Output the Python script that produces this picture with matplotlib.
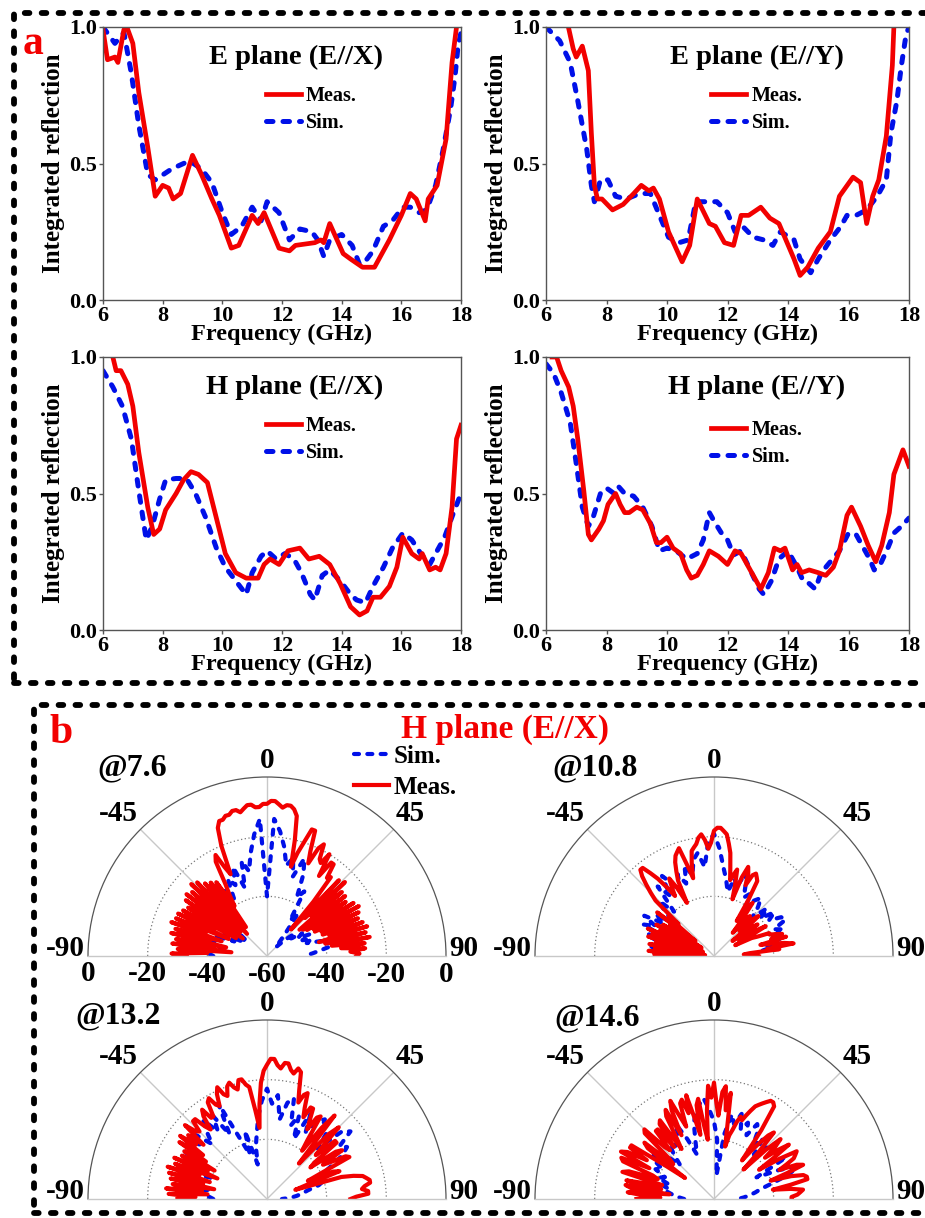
import numpy as np
import matplotlib
matplotlib.use('Agg')
import matplotlib.pyplot as plt
from matplotlib import transforms
from matplotlib.lines import Line2D
from matplotlib.patches import Rectangle

plt.rcParams['font.family'] = ['Liberation Serif', 'DejaVu Serif']
plt.rcParams['font.weight'] = 'bold'

# ---- part a: integrated reflection vs frequency ----
exx_meas_f = [6.0, 6.15, 6.4, 6.5, 6.7, 6.8, 7.0, 7.2, 7.5, 7.75, 8.0, 8.2, 8.35, 8.6, 9.0, 9.3, 9.65, 9.9,
              10.3, 10.55, 11.0, 11.2, 11.4, 11.9, 12.25, 12.45, 13.1, 13.3, 13.4, 13.6, 14.05, 14.3, 14.7,
              15.1, 15.6, 16.0, 16.3, 16.5, 16.8, 16.9, 17.2, 17.5, 17.7, 17.85, 18.0]
exx_meas = [0.99, 0.88, 0.89, 0.87, 0.99, 1.0, 0.94, 0.76, 0.56, 0.38, 0.42, 0.41, 0.37, 0.39, 0.53, 0.46, 0.37, 0.31,
            0.19, 0.20, 0.31, 0.28, 0.32, 0.19, 0.18, 0.20, 0.21, 0.22, 0.21, 0.28, 0.17, 0.15, 0.12,
            0.12, 0.22, 0.31, 0.39, 0.37, 0.29, 0.37, 0.42, 0.59, 0.87, 1.0, 1.03]
exx_sim_f = [6.0, 6.4, 6.7, 6.95, 7.2, 7.5, 7.75, 8.3, 8.9, 9.3, 9.65, 10.0, 10.3, 10.65, 11.0, 11.3, 11.5, 11.9,
             12.25, 12.6, 13.0, 13.2, 13.4, 13.6, 14.0, 14.35, 14.6, 14.85, 15.05, 15.4, 15.7, 16.05, 16.3,
             16.6, 16.85, 17.15, 17.4, 17.65, 17.8, 17.9, 18.0]
exx_sim = [1.0, 0.94, 0.98, 0.83, 0.64, 0.46, 0.44, 0.48, 0.51, 0.48, 0.43, 0.32, 0.24, 0.27, 0.34, 0.29, 0.36, 0.32,
           0.22, 0.26, 0.25, 0.22, 0.16, 0.22, 0.24, 0.20, 0.13, 0.15, 0.18, 0.27, 0.29, 0.34, 0.34,
           0.32, 0.33, 0.42, 0.55, 0.70, 0.82, 0.93, 0.98]

exy_meas_f = [6.6, 6.74, 6.9, 7.0, 7.2, 7.4, 7.5, 7.6, 7.7, 7.85, 8.2, 8.55, 8.9, 9.15, 9.4, 9.55, 9.75, 10.05,
              10.5, 10.75, 11.0, 11.4, 11.6, 11.9, 12.2, 12.45, 12.7, 13.1, 13.4, 13.7, 14.2, 14.4, 14.65,
              15.0, 15.4, 15.7, 16.15, 16.4, 16.6, 16.8, 17.0, 17.25, 17.45, 17.5, 17.6]
exy_meas = [1.05, 1.0, 0.92, 0.89, 0.93, 0.84, 0.61, 0.42, 0.37, 0.37, 0.33, 0.35, 0.39, 0.42, 0.40, 0.41, 0.37, 0.25,
            0.14, 0.20, 0.37, 0.28, 0.27, 0.21, 0.20, 0.31, 0.31, 0.34, 0.30, 0.28, 0.15, 0.09, 0.12,
            0.19, 0.25, 0.38, 0.45, 0.43, 0.28, 0.38, 0.44, 0.60, 0.86, 1.0, 1.05]
exy_sim_f = [6.0, 6.45, 6.8, 7.05, 7.35, 7.5, 7.6, 7.8, 8.05, 8.3, 8.65, 9.1, 9.45, 9.75, 10.05, 10.4, 10.7, 10.95,
             11.2, 11.65, 12.0, 12.25, 12.5, 12.85, 13.2, 13.5, 13.75, 14.2, 14.4, 14.75, 15.0, 15.4, 15.75,
             15.95, 16.25, 16.6, 16.95, 17.25, 17.4, 17.6, 17.75, 17.9, 18.0]
exy_sim = [1.0, 0.95, 0.87, 0.73, 0.55, 0.42, 0.36, 0.44, 0.44, 0.38, 0.37, 0.39, 0.39, 0.31, 0.23, 0.21, 0.22, 0.36,
           0.36, 0.36, 0.32, 0.25, 0.27, 0.23, 0.22, 0.20, 0.25, 0.22, 0.15, 0.10, 0.15, 0.22, 0.27,
           0.31, 0.31, 0.33, 0.38, 0.44, 0.61, 0.73, 0.86, 0.97, 1.0]

hx_meas_f = [6.33, 6.44, 6.6, 6.83, 7.0, 7.2, 7.5, 7.7, 7.9, 8.1, 8.45, 8.7, 8.95, 9.2, 9.5, 9.8, 10.1, 10.45,
             10.8, 11.2, 11.4, 11.6, 11.9, 12.2, 12.6, 12.9, 13.25, 13.6, 13.95, 14.3, 14.6, 14.85, 15.05,
             15.3, 15.6, 15.85, 16.05, 16.35, 16.6, 16.7, 16.95, 17.15, 17.3, 17.5, 17.7, 17.85, 18.0]
hx_meas = [1.0, 0.95, 0.95, 0.90, 0.82, 0.65, 0.45, 0.35, 0.37, 0.44, 0.50, 0.55, 0.58, 0.57, 0.54, 0.41, 0.28, 0.21,
           0.19, 0.19, 0.24, 0.26, 0.24, 0.29, 0.30, 0.26, 0.27, 0.24, 0.17, 0.085, 0.055, 0.07, 0.12,
           0.12, 0.16, 0.23, 0.34, 0.28, 0.26, 0.28, 0.22, 0.23, 0.22, 0.28, 0.45, 0.70, 0.75]
hx_sim_f = [6.0, 6.33, 6.65, 6.95, 7.2, 7.45, 7.65, 7.9, 8.1, 8.45, 8.8, 9.1, 9.45, 9.8, 10.1, 10.45, 10.8, 11.0,
            11.3, 11.5, 11.8, 12.1, 12.4, 12.65, 12.95, 13.1, 13.35, 13.6, 13.95, 14.3, 14.5, 14.8, 15.05,
            15.4, 15.7, 16.05, 16.35, 16.65, 16.95, 17.2, 17.45, 17.75, 18.0]
hx_sim = [0.95, 0.89, 0.82, 0.70, 0.51, 0.33, 0.38, 0.48, 0.55, 0.555, 0.555, 0.50, 0.41, 0.30, 0.23, 0.18, 0.13, 0.21,
          0.27, 0.29, 0.26, 0.28, 0.26, 0.21, 0.13, 0.11, 0.20, 0.22, 0.18, 0.13, 0.11, 0.10, 0.16,
          0.23, 0.30, 0.355, 0.33, 0.28, 0.24, 0.29, 0.34, 0.43, 0.50]

hy_meas_f = [6.2, 6.35, 6.5, 6.75, 6.9, 7.05, 7.25, 7.4, 7.5, 7.75, 7.9, 8.05, 8.3, 8.45, 8.6, 8.75, 9.0, 9.2,
             9.45, 9.65, 9.8, 10.0, 10.2, 10.45, 10.65, 10.8, 11.0, 11.2, 11.4, 11.7, 12.0, 12.25, 12.45,
             12.8, 13.1, 13.35, 13.55, 13.75, 13.9, 14.15, 14.3, 14.45, 14.7, 15.0, 15.25, 15.5, 15.7,
             15.95, 16.1, 16.4, 16.65, 16.9, 17.1, 17.35, 17.5, 17.8, 18.0]
hy_meas = [1.0, 1.0, 0.95, 0.89, 0.82, 0.70, 0.51, 0.35, 0.33, 0.37, 0.40, 0.46, 0.50, 0.46, 0.43, 0.43, 0.45, 0.44,
           0.39, 0.32, 0.32, 0.34, 0.30, 0.28, 0.22, 0.19, 0.20, 0.24, 0.29, 0.27, 0.24, 0.29, 0.28,
           0.21, 0.15, 0.21, 0.30, 0.29, 0.30, 0.22, 0.24, 0.21, 0.22, 0.21, 0.20, 0.23, 0.29,
           0.42, 0.45, 0.38, 0.31, 0.25, 0.31, 0.43, 0.57, 0.66, 0.60]
hy_sim_f = [6.0, 6.25, 6.5, 6.8, 7.0, 7.2, 7.4, 7.55, 7.8, 8.0, 8.25, 8.4, 8.6, 8.9, 9.2, 9.5, 9.75, 10.0,
            10.3, 10.65, 11.0, 11.2, 11.4, 11.55, 11.8, 12.0, 12.2, 12.45, 12.75, 13.05, 13.2, 13.45, 13.7,
            14.0, 14.3, 14.5, 14.7, 14.9, 15.1, 15.4, 15.7, 16.0, 16.25, 16.45, 16.7, 16.85, 17.05, 17.3,
            17.5, 17.75, 18.0]
hy_sim = [0.975, 0.94, 0.87, 0.76, 0.61, 0.45, 0.38, 0.41, 0.50, 0.52, 0.50, 0.525, 0.50, 0.49, 0.45, 0.38, 0.29, 0.30,
          0.29, 0.26, 0.28, 0.33, 0.43, 0.40, 0.355, 0.33, 0.275, 0.29, 0.22, 0.15, 0.13, 0.18, 0.26,
          0.29, 0.23, 0.18, 0.17, 0.15, 0.21, 0.25, 0.29, 0.355, 0.35, 0.31, 0.26, 0.22, 0.24, 0.30,
          0.355, 0.38, 0.41]

line_titles = ['E plane (E//X)', 'E plane (E//Y)', 'H plane (E//X)', 'H plane (E//Y)']

# ---- part b: H plane (E//X) radiation patterns (dB) ----
sim_deg = list(range(-90, 91, 3))                   # simulated patterns, 3 deg steps
meas_deg = [d / 2 for d in range(-180, 181, 3)]     # measured patterns, 1.5 deg steps
polar_tags = ['@7.6', '@10.8', '@13.2', '@14.6']

meas_76 = [-33, -28, -40, -30, -48, -28, -42, -29, -46, -27,
           -40, -28, -44, -26, -38, -27, -46, -27, -40, -28,
           -48, -29, -42, -27, -50, -26, -44, -27, -48, -25,
           -40, -26, -50, -28, -44, -29, -48, -30, -40, -36,
           -32, -24, -22, -27, -30, -20, -14, -12, -12, -11,
           -11, -10, -10, -11, -10, -9, -9, -10, -10, -9,
           -9, -8, -8, -9, -10, -9, -9, -10, -12, -20,
           -29, -24, -20, -15, -15, -22, -26, -20, -18, -23,
           -24, -20, -28, -22, -22, -27, -26, -36, -48, -25,
           -42, -24, -40, -27, -46, -27, -45, -28, -44, -26,
           -42, -25, -42, -26, -40, -27, -40, -26, -38, -25,
           -42, -26, -40, -25, -38, -27, -35, -27, -32, -29,
           -30]
sim_76 = [-42, -40, -39, -45, -42, -41, -44, -41, -48, -44,
          -50, -46, -52, -48, -44, -47, -40, -44, -37, -34,
          -38, -31, -34, -28, -36, -27, -31, -25, -19, -14,
          -40,
          -14, -18, -23, -29, -26, -32, -25, -30, -38, -35,
          -46, -42, -50, -54, -56, -52, -48, -50, -46, -48,
          -44, -47, -44, -46, -40, -37, -38, -42, -45, -48]
meas_108 = [-44, -40, -56, -38, -57, -40, -55, -38, -52, -40,
            -56, -37, -50, -38, -56, -36, -48, -40, -54, -38,
            -50, -40, -55, -42, -50, -36, -52, -40, -44, -33,
            -30, -27, -24, -22, -22, -25, -28, -32, -36, -33,
            -30, -34, -40, -32, -29, -26, -24, -23, -22, -28,
            -33, -28, -24, -23, -22, -20, -19, -21, -24, -22,
            -18, -17, -17, -18, -19, -22, -25, -30, -34, -32,
            -30, -35, -40, -32, -28, -30, -34, -30, -29, -30,
            -31, -38, -46, -40, -38, -44, -50, -44, -42, -46,
            -48, -42, -40, -46, -52, -45, -42, -48, -50, -44,
            -40, -48, -52, -46, -44, -40, -40, -38, -36, -40,
            -35, -44, -40, -36, -33, -42, -38, -48, -50, -46,
            -45]
sim_108 = [-45, -40, -42, -38, -44, -40, -36, -42, -34, -38,
           -33, -40, -36, -44, -38, -34, -40, -30, -35, -28,
           -32, -36, -30, -34, -28, -32, -27, -25, -30, -22,
           -19,
           -24, -30, -34, -38, -33, -36, -30, -34, -38, -36,
           -40, -37, -35, -38, -42, -36, -40, -35, -38, -34,
           -33, -38, -35, -40, -36, -42, -40, -44, -46, -48]
meas_132 = [-30, -36, -27, -40, -26, -38, -28, -42, -27, -38,
            -26, -40, -25, -36, -27, -42, -26, -38, -28, -40,
            -28, -36, -25, -34, -24, -30, -26, -32, -23, -27,
            -28, -24, -24, -28, -30, -25, -23, -27, -27, -22,
            -21, -24, -25, -21, -19, -22, -23, -20, -19, -21,
            -22, -19, -19, -21, -22, -30, -36, -28, -21, -17,
            -15, -13, -13, -15, -16, -14, -14, -16, -17, -15,
            -16, -22, -26, -23, -22, -27, -30, -26, -26, -30,
            -33, -28, -27, -36, -40, -30, -24, -38, -44, -30,
            -26, -34, -38, -30, -30, -40, -42, -32, -30, -38,
            -35, -30, -29, -40, -45, -36, -34, -46, -50, -34,
            -30, -27, -26, -25, -25, -27, -28, -26, -26, -30,
            -32]
sim_132 = [-42, -40, -36, -40, -34, -38, -33, -40, -30, -35,
           -28, -33, -26, -31, -28, -34, -30, -26, -32, -27,
           -35, -24, -38, -44, -36, -48, -42, -38, -32, -27,
           -23,
           -28, -25, -33, -27, -25, -34, -30, -38, -28, -34,
           -29, -27, -32, -30, -36, -26, -24, -30, -28, -31,
           -36, -40, -44, -40, -42, -46, -48, -50, -52, -55]
meas_146 = [-34, -42, -36, -31, -45, -32, -30, -42, -30, -40,
            -42, -28, -30, -40, -38, -27, -26, -36, -25, -27,
            -34, -27, -27, -40, -48, -32, -30, -42, -40, -28,
            -27, -36, -38, -30, -30, -38, -29, -28, -40, -36,
            -28, -26, -36, -27, -24, -30, -34, -26, -25, -30,
            -24, -32, -38, -28, -26, -36, -40, -30, -22, -26,
            -21, -28, -32, -24, -22, -30, -24, -36, -42, -38,
            -36, -33, -31, -32, -30, -28, -26, -25, -24, -23,
            -22, -22, -23, -32, -44, -40, -36, -32, -30, -38,
            -46, -36, -30, -33, -38, -33, -29, -36, -42, -34,
            -28, -29, -30, -33, -36, -30, -28, -34, -40, -33,
            -29, -28, -28, -34, -40, -34, -30, -31, -32, -34,
            -34]
sim_146 = [-50, -48, -46, -44, -45, -42, -44, -40, -42, -38,
           -40, -36, -35, -42, -38, -44, -40, -36, -38, -34,
           -36, -32, -38, -44, -40, -34, -30, -28, -26, -30,
           -34,
           -40, -52, -38, -31, -34, -30, -35, -32, -36, -31,
           -33, -38, -34, -40, -36, -32, -34, -33, -38, -32,
           -44, -36, -30, -34, -40, -44, -46, -48, -50, -52]

RED = '#f20000'
BLUE = '#0010e8'
W, H = 925, 1218

fig = plt.figure(figsize=(W / 100, H / 100), dpi=100)


def px_rect(l, t, r, b):
    return [l / W, 1 - b / H, (r - l) / W, (b - t) / H]


# line panels
line_boxes = [(103, 27, 461, 300), (546, 27, 909, 300), (103, 357, 461, 630), (546, 357, 909, 630)]
title_x = [0.54, 0.58, 0.535, 0.58]
legend_y = [0.785, 0.785, 0.785, 0.77]
series = [(exx_meas_f, exx_meas, exx_sim_f, exx_sim),
          (exy_meas_f, exy_meas, exy_sim_f, exy_sim),
          (hx_meas_f, hx_meas, hx_sim_f, hx_sim),
          (hy_meas_f, hy_meas, hy_sim_f, hy_sim)]

for i, box in enumerate(line_boxes):
    mf, mv, sf, sv = series[i]
    ax = fig.add_axes(px_rect(*box))
    sim_line, = ax.plot(sf, sv, color=BLUE, lw=3.6, ls=(0, (1.3, 2.0)), dash_capstyle='round', label='Sim.')
    meas_line, = ax.plot(mf, mv, color=RED, lw=3.4, label='Meas.')
    ax.set_xlim(6, 18)
    ax.set_ylim(0, 1)
    ax.set_xticks([6, 8, 10, 12, 14, 16, 18])
    ax.set_yticks([0, 0.5, 1.0])
    ax.set_yticklabels(['0.0', '0.5', '1.0'])
    ax.tick_params(labelsize=16, length=3, width=1, pad=1, color='#555')
    for s in ax.spines.values():
        s.set_color('#555')
        s.set_linewidth(1)
    ax.set_xlabel('Frequency (GHz)', fontsize=17.5, fontweight='bold', labelpad=-1)
    ax.set_ylabel('Integrated reflection', fontsize=18, fontweight='bold', labelpad=3)
    ax.text(title_x[i], 0.89, line_titles[i], transform=ax.transAxes, ha='center', va='center',
            fontsize=20.5, fontweight='bold')
    ax.legend(handles=[meas_line, sim_line], loc='upper left', bbox_to_anchor=(0.455, legend_y[i]),
              frameon=False, prop={'size': 14.5, 'weight': 'bold'}, handlelength=1.75,
              handletextpad=0.25, labelspacing=0.35, borderpad=0, borderaxespad=0)

# polar panels: the half disc is fitted into a square box, centred vertically
polar_centers = [(267, 956), (714, 956), (267, 1199), (714, 1199)]
R = 179
polar_series = [(meas_76, sim_76), (meas_108, sim_108), (meas_132, sim_132), (meas_146, sim_146)]
tag_pos = [(132, 768), (595, 768), (118, 1016), (597, 1018)]
th_line = np.linspace(-np.pi / 2, np.pi / 2, 300)

for i, (cx, cy) in enumerate(polar_centers):
    meas, sim = polar_series[i]
    ax = fig.add_axes(px_rect(cx - R, cy - 1.5 * R, cx + R, cy + 0.5 * R), projection='polar')
    ax.set_theta_zero_location('N')
    ax.set_theta_direction(-1)
    ax.set_thetamin(-90)
    ax.set_thetamax(90)
    ax.set_ylim(-60, 0)
    ax.grid(False)
    ax.set_yticks([])
    ax.set_xticks(np.deg2rad(np.arange(-90, 91, 15)))
    ax.set_xticklabels([])
    ax.tick_params(axis='x', direction='in', length=3, color='#777')
    ax.spines['polar'].set_color('#555')
    ax.spines['polar'].set_linewidth(0.9)
    for s in ['start', 'end']:
        ax.spines[s].set_color('#c8c8c8')
        ax.spines[s].set_linewidth(1)
    ax.spines['inner'].set_visible(False)
    for rr in (-40, -20):
        ax.plot(th_line, np.full_like(th_line, rr), color='#777', lw=0.9, ls=(0, (1, 2)))
    for a in (-45, 0, 45):
        ax.plot([np.deg2rad(a)] * 2, [-60, 0], color='#c8c8c8', lw=1)
    ax.plot(np.deg2rad(sim_deg), sim, color=BLUE, lw=3.0, ls=(0, (1.2, 2.0)), dash_capstyle='round')
    ax.plot(np.deg2rad(meas_deg), meas, color=RED, lw=3.0)

    ax.text(0, 5.5, '0', ha='center', va='center', fontsize=21)
    ax.text(np.deg2rad(-45), 1, '-45', ha='right', va='bottom', fontsize=21)
    ax.text(np.deg2rad(45), 1, '45', ha='left', va='bottom', fontsize=21)
    ax.text(np.deg2rad(-90), 1, '-90', ha='right', va='baseline', fontsize=21)
    ax.text(np.deg2rad(90), 1, '90', ha='left', va='baseline', fontsize=21)

    fig.text(tag_pos[i][0] / W, 1 - tag_pos[i][1] / H, polar_tags[i], ha='center', va='center', fontsize=23)

    if i == 0:
        below = transforms.offset_copy(ax.transData, fig=fig, x=0, y=-18, units='dots')
        for r in (0, -20, -40):
            ax.text(np.deg2rad(-90), r, str(r), transform=below, ha='center', va='center', fontsize=21)
        ax.text(0, -60, '-60', transform=below, ha='center', va='center', fontsize=21)
        for r in (-40, -20, 0):
            ax.text(np.deg2rad(90), r, str(r), transform=below, ha='center', va='center', fontsize=21)
        hs = [Line2D([], [], color=BLUE, lw=3.0, ls=(0, (1.2, 2.0)), dash_capstyle='round'),
              Line2D([], [], color=RED, lw=3.0)]
        fig.legend(hs, ['Sim.', 'Meas.'], loc='upper left', bbox_to_anchor=(354 / W, 1 - 745 / H),
                   frameon=False, prop={'size': 18}, handlelength=1.4, handletextpad=0.2,
                   labelspacing=0.3, borderpad=0, borderaxespad=0)

# panel letters and part b title
fig.text(33 / W, 1 - 44 / H, 'a', color=RED, fontsize=30, ha='center', va='center')
fig.text(61 / W, 1 - 733 / H, 'b', color=RED, fontsize=30, ha='center', va='center')
fig.text(505 / W, 1 - 729 / H, 'H plane (E//X)', color=RED, fontsize=24, ha='center', va='center')

# dashed frames
for (l, t, b) in [(14, 13, 683), (34, 705, 1213)]:
    fig.patches.append(Rectangle((l / W, 1 - b / H), (945 - l) / W, (b - t) / H, transform=fig.transFigure,
                                 fill=False, ec='black', lw=4.2, ls=(0, (0.8, 2.1)), capstyle='round'))

fig.savefig('out.png', dpi=100)
